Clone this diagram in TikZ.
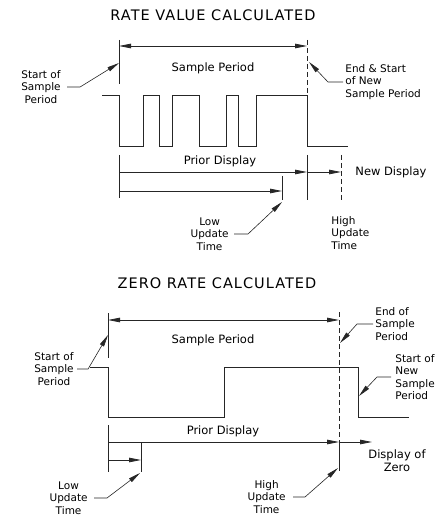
\documentclass[tikz,border=0pt]{standalone}
\usepackage{fontspec}
\setmainfont{DejaVu Sans}
\usetikzlibrary{arrows.meta,positioning,calc}

\begin{document}
\begin{tikzpicture}[x=1pt, y=-1pt, line width=0.8pt, draw=black!85,
  >={Triangle[length=12pt, width=4.5pt]},
  ttl/.style={font=\fontsize{14.5}{18}\selectfont\addfontfeature{LetterSpace=7}},
  lbl/.style={font=\fontsize{11.5}{13}\selectfont, inner sep=0pt},
  note/.style={font=\fontsize{10.5}{12.5}\selectfont, inner sep=0pt},
  dim/.style={<->},
  lead/.style={->, line width=0.6pt},
  ghost/.style={dash pattern=on 5pt off 3pt},
]
\useasboundingbox (0,0) rectangle (443,518);

%% ---- top: rate value calculated ----
\node[ttl] (ttlA) at (213,15) {RATE VALUE CALCULATED};
\draw (119,40) -- (119,84);
\draw[ghost] (307,40) -- (307,95);
\coordinate (sA) at (119,46); \coordinate (eA) at (307,46);
\draw[dim] (sA) -- (eA);
\node[lbl] (spA) at (213,68) {Sample Period};
\node[note, align=center] (startA) at (41,87) {Start of\\Sample\\Period};
\coordinate (tipSA) at (119,63);
\draw[lead] ([xshift=6pt]startA.east) -- ++(13,0) -- (tipSA);
\node[note, align=left, anchor=west] (endA) at (345,82) {End \& Start\\of New\\Sample Period};
\coordinate (tipEA) at (309,62);
\draw[lead] ([xshift=-2pt]endA.west) -- ++(-15,0) -- (tipEA);

% pulse train
\draw (102,95) -- (119,95) -- (119,146)
  \foreach \u/\d in {143/159,172/199,226/238,256/307} {
    -- (\u,146) -- (\u,95) -- (\d,95) -- (\d,146) }
  -- (348,146);

% display periods
\draw (119,155) -- (119,198);
\draw (307,155) -- (307,200);
\draw[ghost] (341,155) -- (341,200);
\draw (282,176) -- (282,200);
\coordinate (pA) at (119,172); \coordinate (qA) at (307,172); \coordinate (rA) at (341,172);
\draw[->] (pA) -- (qA);
\draw[->] (qA) -- (rA);
\coordinate (lA) at (119,191); \coordinate (mA) at (282,191);
\draw[->] (lA) -- (mA);
\node[lbl] (pdA) at (220,161) {Prior Display};
\node[lbl, anchor=west] (ndA) at (355,172) {New Display};
\node[note, align=center, anchor=east] (lowA) at (229,234) {Low\\Update\\Time};
\coordinate (tipLA) at (282,202);
\draw[lead] ([xshift=5pt]lowA.east) -- ++(14,0) -- (tipLA);
\node[note, align=left, anchor=west] (highA) at (331,233) {High\\Update\\Time};

%% ---- bottom: zero rate calculated ----
\node[ttl] (ttlB) at (217,283) {ZERO RATE CALCULATED};
\draw (108,313) -- (108,358);
\draw[ghost] (339,312) -- (339,442);
\coordinate (sB) at (108,320); \coordinate (eB) at (339,320);
\draw[dim] (sB) -- (eB);
\node[lbl] (spB) at (213,340) {Sample Period};
\node[note, align=center] (startB) at (54,369) {Start of\\Sample\\Period};
\coordinate (tipSB) at (108,335);
\draw[lead] ([xshift=3pt]startB.east) -- ++(11,0) -- (tipSB);
\node[note, align=left, anchor=west] (endB) at (375,324) {End of\\Sample\\Period};
\coordinate (tipEB) at (340,343);
\draw[lead] ([xshift=-2pt]endB.west) -- ++(-16,0) -- (tipEB);
\node[note, align=left, anchor=west] (startC) at (395,377) {Start of\\New\\Sample\\Period};
\coordinate (tipSC) at (359,396);
\draw[lead] ([xshift=-4pt]startC.west) -- ++(-14,0) -- (tipSC);

% single pulse
\draw (90,367) -- (108,367) -- (108,417) -- (224,417) -- (224,367)
  -- (358,367) -- (358,417) -- (409,417);

% display periods
\draw (108,425) -- (108,472);
\draw (339,442) -- (339,471);
\draw (141,443) -- (141,472);
\coordinate (pB) at (108,442); \coordinate (qB) at (339,442); \coordinate (rB) at (372,442);
\draw[->] (pB) -- (qB);
\draw[->] (qB) -- (rB);
\coordinate (lB) at (108,460); \coordinate (mB) at (141,460);
\draw[->] (lB) -- (mB);
\node[lbl] (pdB) at (223,431) {Prior Display};
\node[lbl, align=center] (dzB) at (397,461) {Display of\\Zero};
\node[note, align=center, anchor=east] (lowB) at (88,498) {Low\\Update\\Time};
\coordinate (tipLB) at (140,473);
\draw[lead] ([xshift=6pt]lowB.east) -- ++(13,0) -- (tipLB);
\node[note, align=center, anchor=east] (highB) at (286,497) {High\\Update\\Time};
\coordinate (tipHB) at (338,468);
\draw[lead] ([xshift=7pt]highB.east) -- ++(12,0) -- (tipHB);
\end{tikzpicture}
\end{document}
